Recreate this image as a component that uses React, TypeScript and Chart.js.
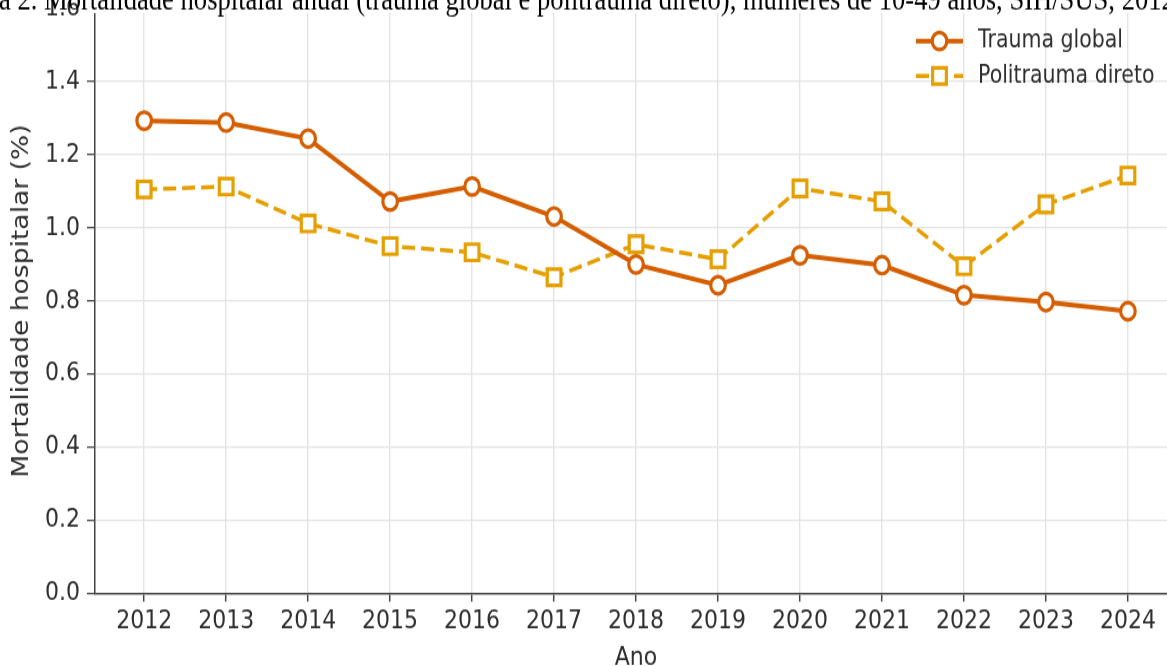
import React, { useEffect, useRef } from 'react';
import { Chart, registerables } from 'chart.js';

Chart.register(...registerables);

const years = [2012, 2013, 2014, 2015, 2016, 2017, 2018, 2019, 2020, 2021, 2022, 2023, 2024];
const traumaGlobal = [1.293, 1.288, 1.244, 1.072, 1.113, 1.031, 0.9, 0.843, 0.925, 0.898, 0.816, 0.797, 0.772];
const politraumaDireto = [1.105, 1.113, 1.012, 0.95, 0.933, 0.865, 0.955, 0.914, 1.108, 1.072, 0.895, 1.064, 1.143];
const yTicks = [0, 0.2, 0.4, 0.6, 0.8, 1.0, 1.2, 1.4, 1.6];
const seriesLabels = ['Trauma global', 'Politrauma direto'];
const seriesColors = ['#D55E00', '#E69F00'];
const xLabel = 'Ano';
const yLabel = 'Mortalidade hospitalar (%)';
const titleText =
  'Figura 2. Mortalidade hospitalar anual (trauma global e politrauma direto), mulheres de 10-49 anos, SIH/SUS, 2012-2024';
const titleVisible =
  'a 2. Mortalidade hospitalar anual (trauma global e politrauma direto), mulheres de 10-49 anos, SIH/SUS, 201';

// canvas covers page y from -OFF to 666, drawn at CH px and stretched vertically by S
const OFF = 20;
const CW = 1190;
const CH = 581;
const S = (666 + OFF) / CH;
const toC = (pageY: number) => (pageY + OFF) / S;

const SANS = '"DejaVu Sans", sans-serif';
const TEXT = '#2e2e2e';

const legendPlugin = {
  id: 'customLegend',
  afterDraw(chart: any) {
    const ctx = chart.ctx;
    const rows = [toC(41), toC(76)];
    chart.data.datasets.forEach((ds: any, i: number) => {
      const y = rows[i];
      ctx.save();
      ctx.strokeStyle = ds.borderColor;
      ctx.lineWidth = ds.borderWidth;
      ctx.setLineDash(ds.borderDash || []);
      ctx.beginPath();
      ctx.moveTo(916, y);
      ctx.lineTo(963, y);
      ctx.stroke();
      ctx.setLineDash([]);
      ctx.fillStyle = '#ffffff';
      ctx.lineWidth = ds.pointBorderWidth;
      ctx.beginPath();
      if (ds.pointStyle === 'rect') {
        const s = Math.SQRT1_2 * ds.pointRadius;
        ctx.rect(939.5 - s, y - s, 2 * s, 2 * s);
      } else {
        ctx.arc(939.5, y, ds.pointRadius, 0, Math.PI * 2);
      }
      ctx.fill();
      ctx.stroke();
      ctx.fillStyle = TEXT;
      ctx.font = `20.5px ${SANS}`;
      ctx.textBaseline = 'middle';
      ctx.textAlign = 'left';
      ctx.fillText(ds.label, 978, y);
      ctx.restore();
    });
  },
};

const titlePlugin = {
  id: 'cutTitle',
  afterDraw(chart: any) {
    const ctx = chart.ctx;
    ctx.save();
    ctx.fillStyle = '#ffffff';
    ctx.fillRect(86, 0, CW, toC(13));
    ctx.font = '100px "Liberation Serif", "Times New Roman", serif';
    const w100 = ctx.measureText(titleVisible).width;
    const size = (100 * 1163) / w100;
    ctx.font = `${size}px "Liberation Serif", "Times New Roman", serif`;
    const prefix = ctx.measureText('Figur').width;
    ctx.fillStyle = '#000000';
    ctx.textBaseline = 'alphabetic';
    ctx.textAlign = 'left';
    ctx.fillText(titleText, -1 - prefix, toC(10));
    ctx.restore();
  },
};

export default function App() {
  const ref = useRef<HTMLCanvasElement | null>(null);

  useEffect(() => {
    document.body.style.margin = '0';
    document.body.style.overflow = 'hidden';
    document.documentElement.style.overflow = 'hidden';
    const canvas = ref.current;
    if (!canvas) return;
    const tickFont = { family: SANS, size: 22 };
    const plotTop = toC(8.4);
    const plotBottom = toC(593.5);
    const chart = new Chart(canvas, {
      type: 'line',
      data: {
        datasets: [
          {
            label: seriesLabels[0],
            data: years.map((y, i) => ({ x: y, y: traumaGlobal[i] })),
            borderColor: seriesColors[0],
            backgroundColor: '#ffffff',
            borderWidth: 4,
            pointStyle: 'circle',
            pointRadius: 7.3,
            pointBorderWidth: 3.2,
            pointBackgroundColor: '#ffffff',
            pointBorderColor: seriesColors[0],
            tension: 0,
          },
          {
            label: seriesLabels[1],
            data: years.map((y, i) => ({ x: y, y: politraumaDireto[i] })),
            borderColor: seriesColors[1],
            backgroundColor: '#ffffff',
            borderWidth: 3.5,
            borderDash: [13, 6],
            pointStyle: 'rect',
            pointRadius: 9.7,
            pointBorderWidth: 3.2,
            pointBackgroundColor: '#ffffff',
            pointBorderColor: seriesColors[1],
            tension: 0,
          },
        ],
      } as any,
      options: {
        animation: false,
        responsive: false,
        devicePixelRatio: 1,
        layout: { padding: { top: plotTop, right: CW - 1177.6, bottom: 0, left: 0 } },
        plugins: { legend: { display: false }, tooltip: { enabled: false }, title: { display: false } },
        scales: {
          x: {
            type: 'linear',
            min: 2011.4,
            max: 2024.6,
            afterBuildTicks: (s: any) => {
              s.ticks = years.map((v) => ({ value: v }));
            },
            afterFit: (s: any) => {
              s.height = CH - plotBottom;
            },
            ticks: {
              callback: (v: any) => String(v),
              font: tickFont,
              color: TEXT,
              padding: 4,
              maxRotation: 0,
              autoSkip: false,
            },
            grid: { color: '#e3e3e3', lineWidth: 1.4, tickColor: '#444444', tickLength: 6.8, tickWidth: 1.5 },
            border: { color: '#444444', width: 1.4 },
            title: {
              display: true,
              text: xLabel,
              font: { family: SANS, size: 22 },
              color: TEXT,
              padding: { top: 0, bottom: -6.3 },
            },
          },
          y: {
            type: 'linear',
            min: 0,
            max: 1.6,
            afterBuildTicks: (s: any) => {
              s.ticks = yTicks.map((v) => ({ value: v }));
            },
            afterFit: (s: any) => {
              s.width = 95;
            },
            ticks: {
              callback: (v: any) => Number(v).toFixed(1),
              font: tickFont,
              color: TEXT,
              padding: 7,
            },
            grid: { color: '#e3e3e3', lineWidth: 1.3, tickColor: '#444444', tickLength: 8, tickWidth: 1.3 },
            border: { color: '#444444', width: 1.5 },
            title: {
              display: true,
              text: yLabel,
              font: { family: SANS, size: 22.5 },
              color: TEXT,
              padding: { top: 8.5, bottom: 0 },
            },
          },
        },
      } as any,
      plugins: [legendPlugin, titlePlugin],
    });
    return () => chart.destroy();
  }, []);

  return (
    <div style={{ position: 'absolute', left: 0, top: -OFF, width: CW, height: 666 + OFF }}>
      <canvas
        ref={ref}
        width={CW}
        height={CH}
        style={{
          display: 'block',
          width: CW,
          height: CH,
          transform: `scaleY(${S})`,
          transformOrigin: '0 0',
        }}
      />
    </div>
  );
}
